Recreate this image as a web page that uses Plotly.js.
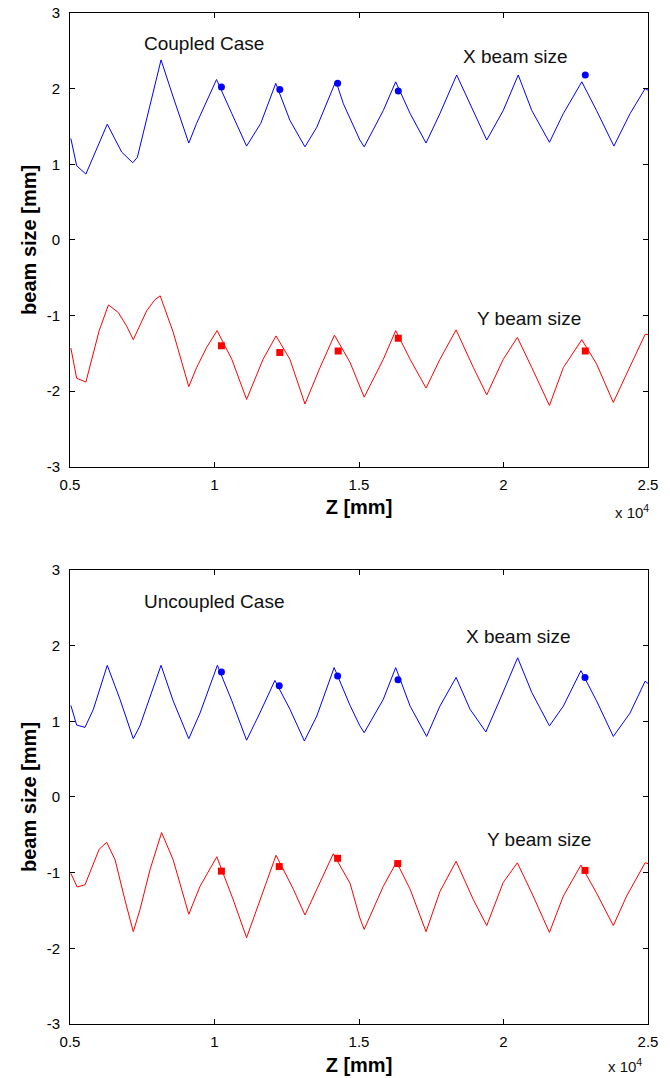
<!DOCTYPE html>
<html>
<head>
<meta charset="utf-8">
<script src="https://cdn.plot.ly/plotly-3.0.1.min.js"></script>
<style>
html,body{margin:0;padding:0;background:#fff;}
#chart{width:670px;height:1078px;}
</style>
</head>
<body>
<div id="chart"></div>
<script>
// ---- Data (Z in mm) ----
const coupledXz = [5030,5230,5550,6290,6790,7170,7330,7770,8150,8570,9110,9380,10070,10600,11110,11600,12120,12610,13130,13540,14200,14460,14690,15030,15180,15840,16270,16770,17320,17800,18380,18960,19420,19990,20510,20980,21590,22070,22710,23220,23820,24380,24900,25000];
const coupledXsize = [1.34,0.98,0.87,1.53,1.16,1.02,1.09,1.76,2.38,1.89,1.28,1.54,2.12,1.67,1.24,1.54,2.07,1.58,1.23,1.49,2.10,1.80,1.60,1.32,1.23,1.71,2.09,1.67,1.28,1.67,2.18,1.71,1.32,1.71,2.18,1.71,1.29,1.67,2.09,1.71,1.24,1.67,2.00,1.98];

const coupledYz = [5030,5230,5550,6010,6330,6670,6960,7190,7650,7940,8120,8570,9110,9380,9730,10090,10600,11110,11680,12130,12610,13130,13650,14150,14690,15030,15180,15840,16270,16770,17320,17800,18360,18960,19420,19990,20480,20980,21590,22070,22710,23220,23800,24200,24900,25000];
const coupledYsize = [-1.43,-1.83,-1.88,-1.20,-0.86,-0.96,-1.14,-1.32,-0.94,-0.79,-0.74,-1.22,-1.94,-1.69,-1.42,-1.20,-1.58,-2.11,-1.58,-1.27,-1.58,-2.17,-1.69,-1.26,-1.62,-1.95,-2.08,-1.58,-1.20,-1.58,-1.96,-1.58,-1.19,-1.69,-2.05,-1.58,-1.29,-1.69,-2.19,-1.69,-1.32,-1.64,-2.15,-1.82,-1.25,-1.25];

const coupledXmeasZ = [10240,12260,14260,16360,22830];
const coupledXmeas  = [2.02,1.99,2.07,1.97,2.18];
const coupledYmeasZ = [10240,12260,14280,16360,22830];
const coupledYmeas  = [-1.40,-1.49,-1.47,-1.30,-1.47];

const uncoupledXz = [5030,5230,5520,5810,6290,6730,7190,7420,8150,8570,9110,9500,10100,10600,11110,11570,12090,12610,13110,13540,14140,14690,15030,15180,15840,16270,16770,17340,17800,18360,18840,19390,19880,20490,20980,21590,22070,22680,23220,23800,24380,24900,25000];
const uncoupledXsize = [1.21,0.95,0.92,1.16,1.74,1.29,0.77,0.94,1.74,1.27,0.77,1.11,1.74,1.27,0.75,1.11,1.54,1.16,0.74,1.07,1.71,1.21,0.94,0.85,1.29,1.71,1.20,0.80,1.20,1.58,1.16,0.86,1.29,1.84,1.38,0.94,1.20,1.67,1.27,0.80,1.11,1.53,1.50];

const uncoupledYz = [5030,5250,5520,6010,6270,6560,6900,7190,7420,7770,8170,8570,9110,9500,10080,10650,11110,11570,12130,12730,13130,13650,14110,14690,15030,15180,15840,16300,16770,17320,17800,18360,18960,19420,19990,20480,20980,21590,22070,22680,23220,23800,24260,24900,25000];
const uncoupledYsize = [-1.01,-1.19,-1.16,-0.69,-0.60,-0.83,-1.36,-1.78,-1.49,-0.96,-0.47,-0.83,-1.55,-1.18,-0.79,-1.36,-1.86,-1.36,-0.77,-1.22,-1.56,-1.13,-0.75,-1.14,-1.60,-1.75,-1.18,-0.86,-1.22,-1.78,-1.25,-0.85,-1.36,-1.70,-1.13,-0.87,-1.27,-1.79,-1.31,-0.90,-1.27,-1.70,-1.31,-0.87,-0.88];

const uncoupledXmeasZ = [10240,12240,14260,16350,22820];
const uncoupledXmeas  = [1.65,1.47,1.60,1.55,1.58];
const uncoupledYmeasZ = [10240,12240,14260,16340,22820];
const uncoupledYmeas  = [-0.98,-0.92,-0.81,-0.88,-0.97];

const zTickVals = [5000,10000,15000,20000,25000];
const zTickText = ['0.5','1','1.5','2','2.5'];
const sizeTickVals = [-3,-2,-1,0,1,2,3];
const sizeTickText = ['-3','-2','-1','0','1','2','3'];

// ---- Styles ----
const FONT = 'Arial, "Liberation Sans", sans-serif';
const BLUE = '#0000ff';
const RED = '#ff0000';

function line(x, y, color, xa, ya) {
  return {x: x, y: y, type: 'scatter', mode: 'lines', xaxis: xa, yaxis: ya,
          line: {color: color, width: 1}, hoverinfo: 'skip', showlegend: false};
}
function pts(x, y, color, sym, xa, ya) {
  return {x: x, y: y, type: 'scatter', mode: 'markers', xaxis: xa, yaxis: ya,
          marker: {color: color, size: 7, symbol: sym}, showlegend: false};
}

const traces = [
  line(coupledXz, coupledXsize, BLUE, 'x', 'y'),
  line(coupledYz, coupledYsize, RED, 'x', 'y'),
  pts(coupledXmeasZ, coupledXmeas, BLUE, 'circle', 'x', 'y'),
  pts(coupledYmeasZ, coupledYmeas, RED, 'square', 'x', 'y'),
  line(uncoupledXz, uncoupledXsize, BLUE, 'x2', 'y2'),
  line(uncoupledYz, uncoupledYsize, RED, 'x2', 'y2'),
  pts(uncoupledXmeasZ, uncoupledXmeas, BLUE, 'circle', 'x2', 'y2'),
  pts(uncoupledYmeasZ, uncoupledYmeas, RED, 'square', 'x2', 'y2')
];

function xAxis(anchor) {
  return {
    anchor: anchor, domain: [0, 1], range: [5000, 25000],
    tickmode: 'array', tickvals: zTickVals, ticktext: zTickText,
    ticks: 'inside', ticklen: 5, tickwidth: 1, tickcolor: '#000',
    showline: true, linecolor: '#000', linewidth: 1, mirror: 'ticks',
    showgrid: false, zeroline: false,
    tickfont: {family: FONT, size: 15, color: '#000'},
    ticklabelstandoff: 4,
    title: {text: 'Z [mm]', font: {family: FONT, size: 20, color: '#000', weight: 'bold'}, standoff: 8}
  };
}
function yAxis(anchor, dom) {
  return {
    anchor: anchor, domain: dom, range: [-3, 3],
    tickmode: 'array', tickvals: sizeTickVals, ticktext: sizeTickText,
    ticks: 'inside', ticklen: 5, tickwidth: 1, tickcolor: '#000',
    showline: true, linecolor: '#000', linewidth: 1, mirror: 'ticks',
    showgrid: false, zeroline: false,
    tickfont: {family: FONT, size: 15, color: '#000'},
    ticklabelstandoff: 6,
    title: {text: 'beam size [mm]', font: {family: FONT, size: 20, color: '#000', weight: 'bold'}, standoff: 4}
  };
}

function note(text, x, y, size) {
  return {text: text, x: x, y: y, xref: 'paper', yref: 'paper', showarrow: false,
          xanchor: 'center', yanchor: 'middle', font: {family: FONT, size: size, color: '#111'}};
}

const layout = {
  width: 670, height: 1078,
  margin: {l: 70, r: 22, t: 13, b: 54},
  paper_bgcolor: '#fff', plot_bgcolor: '#fff',
  showlegend: false,
  xaxis: xAxis('y'),
  yaxis: yAxis('x', [0.5512, 1]),
  xaxis2: xAxis('y2'),
  yaxis2: yAxis('x2', [0, 0.4491]),
  annotations: [
    note('Coupled Case', 0.2318, 0.9703, 19),
    note('X beam size', 0.770, 0.9565, 19),
    note('Y beam size', 0.794, 0.6983, 19),
    note('Uncoupled Case', 0.2486, 0.4177, 19),
    note('X beam size', 0.7768, 0.3831, 19),
    note('Y beam size', 0.8114, 0.182, 19),
    note('x 10<sup>4</sup>', 0.9723, 0.5074, 15),
    note('x 10<sup>4</sup>', 0.960, -0.0415, 15)
  ]
};

Plotly.newPlot('chart', traces, layout, {staticPlot: true, displayModeBar: false});
</script>
</body>
</html>
